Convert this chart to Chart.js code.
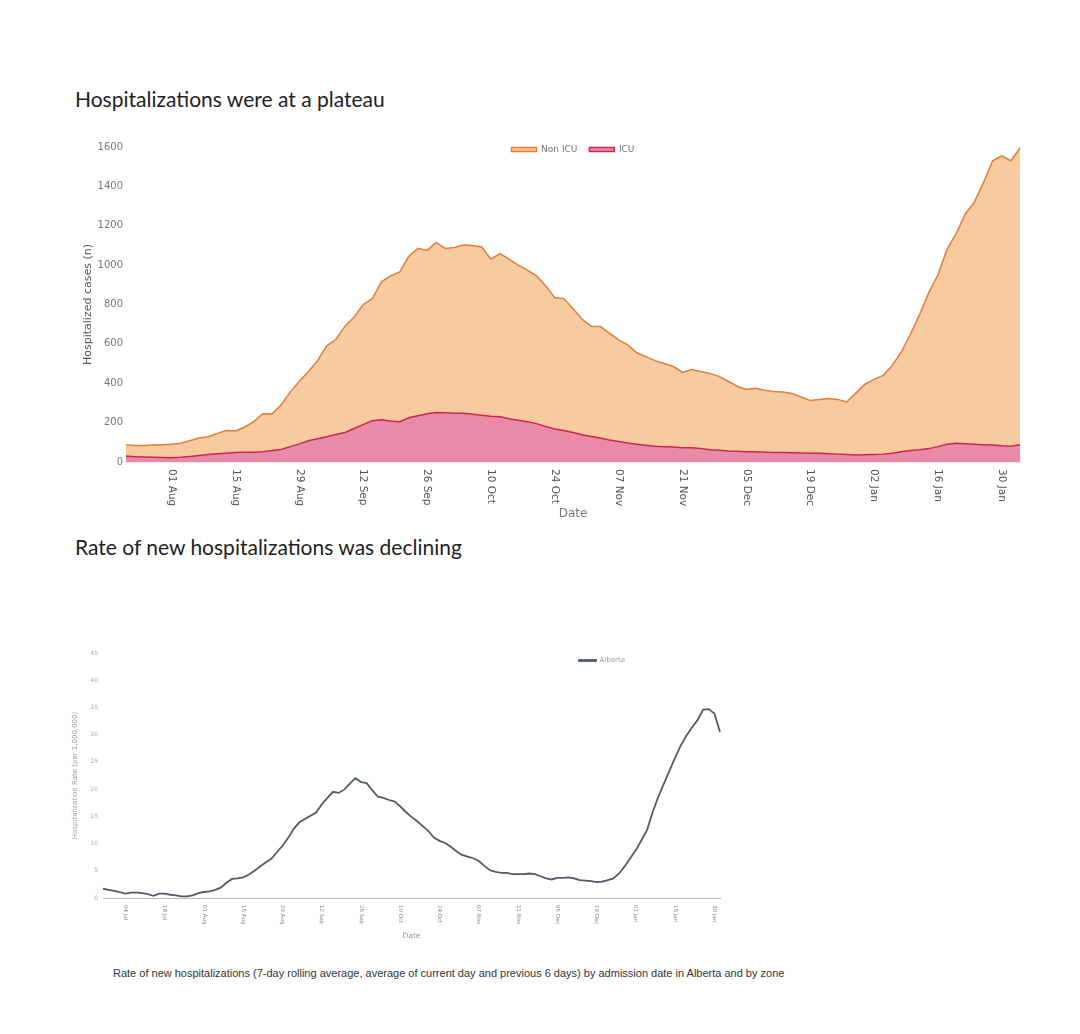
<!DOCTYPE html>
<html>
<head>
<meta charset="utf-8">
<script src="https://cdn.jsdelivr.net/npm/chart.js@4.4.1/dist/chart.umd.min.js"></script>
<style>
  html, body { margin: 0; padding: 0; background: #fff; }
  body { width: 1080px; height: 1034px; position: relative; overflow: hidden; }
  .title { position: absolute; left: 75px; font-family: Lato, "Open Sans", sans-serif; font-size: 21px; color: #222; white-space: nowrap; }
  #t1 { top: 86px; }
  #t2 { top: 534px; }
  #c1 { position: absolute; left: 0; top: 120px; }
  #c2 { position: absolute; left: 0; top: 630px; }
  #caption { position: absolute; left: 113px; top: 967px; font-family: "Liberation Sans", Arial, sans-serif; font-size: 11px; color: #333; white-space: nowrap; }
</style>
</head>
<body>
<div class="title" id="t1">Hospitalizations were at a plateau</div>
<canvas id="c1" width="1080" height="410"></canvas>
<div class="title" id="t2">Rate of new hospitalizations was declining</div>
<canvas id="c2" width="780" height="320"></canvas>
<div id="caption">Rate of new hospitalizations (7-day rolling average, average of current day and previous 6 days) by admission date in Alberta and by zone</div>

<script>
// ---- top chart: hospitalized cases, every 2nd day (22 Jul - 03 Feb)
const topDates = [
  "22 Jul","24 Jul","26 Jul","28 Jul","30 Jul",
  "01 Aug","03 Aug","05 Aug","07 Aug","09 Aug","11 Aug","13 Aug","15 Aug","17 Aug","19 Aug","21 Aug","23 Aug","25 Aug","27 Aug","29 Aug","31 Aug",
  "02 Sep","04 Sep","06 Sep","08 Sep","10 Sep","12 Sep","14 Sep","16 Sep","18 Sep","20 Sep","22 Sep","24 Sep","26 Sep","28 Sep","30 Sep",
  "02 Oct","04 Oct","06 Oct","08 Oct","10 Oct","12 Oct","14 Oct","16 Oct","18 Oct","20 Oct","22 Oct","24 Oct","26 Oct","28 Oct","30 Oct",
  "01 Nov","03 Nov","05 Nov","07 Nov","09 Nov","11 Nov","13 Nov","15 Nov","17 Nov","19 Nov","21 Nov","23 Nov","25 Nov","27 Nov","29 Nov",
  "01 Dec","03 Dec","05 Dec","07 Dec","09 Dec","11 Dec","13 Dec","15 Dec","17 Dec","19 Dec","21 Dec","23 Dec","25 Dec","27 Dec","29 Dec","31 Dec",
  "02 Jan","04 Jan","06 Jan","08 Jan","10 Jan","12 Jan","14 Jan","16 Jan","18 Jan","20 Jan","22 Jan","24 Jan","26 Jan","28 Jan","30 Jan",
  "01 Feb","03 Feb"
];
// top edge of the Non ICU area (ICU + non ICU)
const nonIcuTop = [
  86, 84, 84, 86, 88, 90, 95, 108, 122, 128,
  145, 160, 158, 178, 205, 245, 244, 290, 355, 410,
  460, 515, 590, 622, 690, 735, 800, 830, 915, 945,
  965, 1045, 1085, 1075, 1115, 1085, 1090, 1102, 1100, 1092,
  1030, 1058, 1030, 1000, 975, 945, 895, 835, 830, 780,
  725, 690, 688, 655, 620, 595, 555, 535, 515, 500,
  485, 455, 470, 460, 450, 435, 410, 385, 368, 374,
  365, 358, 355, 348, 330, 312, 318, 322, 318, 305,
  350, 395, 420, 440, 490, 560, 650, 750, 860, 950,
  1080, 1160, 1260, 1320, 1420, 1530, 1555, 1530, 1595
];
const icu = [
  30, 27, 25, 24, 23, 22, 24, 28, 33, 38,
  42, 45, 48, 50, 50, 52, 58, 64, 78, 92,
  108, 118, 128, 140, 150, 170, 190, 210, 215, 208,
  205, 225, 235, 245, 252, 250, 248, 247, 243, 238,
  232, 230, 220, 212, 205, 195, 180, 168, 160, 150,
  138, 130, 122, 112, 104, 96, 90, 85, 80, 78,
  76, 72, 72, 68, 62, 60, 56, 54, 52, 52,
  50, 48, 48, 47, 46, 45, 44, 42, 40, 38,
  36, 37, 38, 40, 45, 52, 58, 62, 68, 78,
  90, 95, 93, 90, 88, 86, 82, 80, 88
];
const topTicks = ["01 Aug","15 Aug","29 Aug","12 Sep","26 Sep","10 Oct","24 Oct","07 Nov","21 Nov","05 Dec","19 Dec","02 Jan","16 Jan","30 Jan"];

// ---- bottom chart: rate per 1,000,000, every 2nd day (26 Jun - 01 Feb)
const rateDates = [
  "26 Jun","28 Jun","30 Jun",
  "02 Jul","04 Jul","06 Jul","08 Jul","10 Jul","12 Jul","14 Jul","16 Jul","18 Jul","20 Jul","22 Jul","24 Jul","26 Jul","28 Jul","30 Jul",
  "01 Aug","03 Aug","05 Aug","07 Aug","09 Aug","11 Aug","13 Aug","15 Aug","17 Aug","19 Aug","21 Aug","23 Aug","25 Aug","27 Aug","29 Aug","31 Aug",
  "02 Sep","04 Sep","06 Sep","08 Sep","10 Sep","12 Sep","14 Sep","16 Sep","18 Sep","20 Sep","22 Sep","24 Sep","26 Sep","28 Sep","30 Sep",
  "02 Oct","04 Oct","06 Oct","08 Oct","10 Oct","12 Oct","14 Oct","16 Oct","18 Oct","20 Oct","22 Oct","24 Oct","26 Oct","28 Oct","30 Oct",
  "01 Nov","03 Nov","05 Nov","07 Nov","09 Nov","11 Nov","13 Nov","15 Nov","17 Nov","19 Nov","21 Nov","23 Nov","25 Nov","27 Nov","29 Nov",
  "01 Dec","03 Dec","05 Dec","07 Dec","09 Dec","11 Dec","13 Dec","15 Dec","17 Dec","19 Dec","21 Dec","23 Dec","25 Dec","27 Dec","29 Dec","31 Dec",
  "02 Jan","04 Jan","06 Jan","08 Jan","10 Jan","12 Jan","14 Jan","16 Jan","18 Jan","20 Jan","22 Jan","24 Jan","26 Jan","28 Jan","30 Jan",
  "01 Feb"
];
const albertaRate = [
  1.7, 1.5, 1.3, 1.1, 0.8, 1.0, 1.0, 0.9, 0.7, 0.4,
  0.8, 0.8, 0.6, 0.5, 0.3, 0.3, 0.5, 0.9, 1.1, 1.2,
  1.5, 1.9, 2.8, 3.5, 3.6, 3.8, 4.3, 5.0, 5.8, 6.5,
  7.2, 8.4, 9.6, 11.0, 12.7, 13.9, 14.5, 15.1, 15.7, 17.2,
  18.4, 19.5, 19.3, 19.9, 21.0, 22.0, 21.3, 21.1, 19.8, 18.6,
  18.4, 18.0, 17.7, 16.8, 15.8, 14.9, 14.1, 13.2, 12.3, 11.1,
  10.5, 10.1, 9.4, 8.6, 7.9, 7.6, 7.3, 6.8, 5.9, 5.1,
  4.8, 4.6, 4.6, 4.4, 4.4, 4.4, 4.5, 4.4, 4.0, 3.6,
  3.4, 3.7, 3.7, 3.8, 3.6, 3.3, 3.2, 3.1, 2.9, 3.0,
  3.3, 3.6, 4.5, 5.8, 7.3, 8.8, 10.6, 12.5, 15.8, 18.6,
  21.0, 23.4, 25.8, 28.0, 29.8, 31.3, 32.7, 34.6, 34.7, 33.9,
  30.5
];
const rateTicks = ["04 Jul","18 Jul","01 Aug","15 Aug","29 Aug","12 Sep","26 Sep","10 Oct","24 Oct","07 Nov","21 Nov","05 Dec","19 Dec","02 Jan","16 Jan","30 Jan"];

// x tick labels read top-to-bottom (rotated clockwise)
const rotatedTicks = {
  id: 'rotatedTicks',
  afterDraw(chart, args, opts) {
    const scale = chart.scales.x;
    const ctx = chart.ctx;
    ctx.save();
    ctx.font = opts.font;
    ctx.fillStyle = opts.color;
    ctx.textAlign = 'left';
    ctx.textBaseline = 'middle';
    scale.ticks.forEach(t => {
      ctx.save();
      ctx.translate(scale.getPixelForValue(t.value), chart.chartArea.bottom + opts.offset);
      ctx.rotate(Math.PI / 2);
      ctx.fillText(scale.getLabelForValue(t.value), 0, 0);
      ctx.restore();
    });
    ctx.restore();
  }
};

// put the legend inside the plot, at a given centre
const legendInside = {
  id: 'legendInside',
  beforeLayout(chart) {
    const l = chart.legend;
    if (l && !l._inside) {
      const fit = l.fit;
      l.fit = function () { fit.call(this); this.height = 0; };
      l._inside = true;
    }
  },
  afterLayout(chart, args, opts) {
    const l = chart.legend;
    if (!l) return;
    l.left = opts.cx - opts.half;
    l.right = opts.cx + opts.half;
    l.width = l.right - l.left;
    l.top = opts.top;
    l.bottom = opts.top + 30;
  }
};

const keepTicks = (dates, wanted) => axis => {
  axis.ticks = axis.ticks.filter(t => wanted.includes(dates[t.value]));
};

new Chart(document.getElementById('c1'), {
  type: 'line',
  data: {
    labels: topDates,
    datasets: [
      {
        label: 'Non ICU',
        data: nonIcuTop,
        borderColor: '#e27d3a',
        backgroundColor: '#f7cb9f',
        borderWidth: 1.5,
        fill: 'origin',
        pointRadius: 0,
        tension: 0,
        order: 2
      },
      {
        label: 'ICU',
        data: icu,
        borderColor: '#c72a4e',
        backgroundColor: '#e98ba8',
        borderWidth: 1.5,
        fill: 'origin',
        pointRadius: 0,
        tension: 0,
        order: 1
      }
    ]
  },
  options: {
    responsive: false,
    animation: false,
    layout: { padding: { left: 78, right: 60, top: 27, bottom: 5 } },
    plugins: {
      tooltip: { enabled: false },
      legend: {
        position: 'top',
        labels: {
          boxWidth: 25, boxHeight: 4, padding: 12, color: '#777',
          font: { family: 'DejaVu Sans', size: 9 },
          sort: (a, b) => a.datasetIndex - b.datasetIndex
        }
      },
      legendInside: { cx: 573, half: 200, top: 13 },
      rotatedTicks: { font: '10.5px "DejaVu Sans"', color: '#555', offset: 7 }
    },
    scales: {
      x: {
        grid: { display: false, drawTicks: false },
        border: { display: true, color: '#cdd1d9', width: 1.5 },
        ticks: { display: false },
        afterBuildTicks: keepTicks(topDates, topTicks),
        afterFit: s => { s.height = 63; },
        title: { display: true, text: 'Date', color: '#777', font: { family: 'DejaVu Sans', size: 12 } }
      },
      y: {
        min: 0, max: 1600,
        grid: { display: false, drawTicks: false },
        border: { display: false },
        ticks: { stepSize: 200, color: '#777', padding: 3, font: { family: 'DejaVu Sans', size: 10 }, callback: v => String(v) },
        afterFit: s => { s.width = 48; },
        title: { display: true, text: 'Hospitalized cases (n)', color: '#555', font: { family: 'DejaVu Sans', size: 11 } }
      }
    }
  },
  plugins: [rotatedTicks, legendInside]
});

new Chart(document.getElementById('c2'), {
  type: 'line',
  data: {
    labels: rateDates,
    datasets: [{
      label: 'Alberta',
      data: albertaRate,
      borderColor: '#535a68',
      backgroundColor: '#535a68',
      borderWidth: 1.8,
      fill: false,
      pointRadius: 0,
      tension: 0
    }]
  },
  options: {
    responsive: false,
    animation: false,
    layout: { padding: { left: 67, right: 60, top: 23, bottom: 5 } },
    plugins: {
      tooltip: { enabled: false },
      legend: {
        position: 'top',
        labels: {
          boxWidth: 17, boxHeight: 1, padding: 8, color: '#999',
          font: { family: 'DejaVu Sans', size: 7 }
        }
      },
      legendInside: { cx: 602, half: 120, top: 19 },
      rotatedTicks: { font: '5.5px "DejaVu Sans"', color: '#888', offset: 7 }
    },
    scales: {
      x: {
        grid: { display: false, drawTicks: false },
        border: { display: true, color: '#bbb', width: 1 },
        ticks: { display: false },
        afterBuildTicks: keepTicks(rateDates, rateTicks),
        afterFit: s => { s.height = 47; },
        title: { display: true, text: 'Date', color: '#999', font: { family: 'DejaVu Sans', size: 7.5 } }
      },
      y: {
        min: 0, max: 45,
        grid: { display: false, drawTicks: false },
        border: { display: false },
        ticks: { stepSize: 5, color: '#aaa', padding: 5, font: { family: 'DejaVu Sans', size: 6 } },
        afterFit: s => { s.width = 36; },
        title: { display: true, text: 'Hospitalization Rate (per 1,000,000)', color: '#999', font: { family: 'DejaVu Sans', size: 7 } }
      }
    }
  },
  plugins: [rotatedTicks, legendInside]
});
</script>
</body>
</html>
